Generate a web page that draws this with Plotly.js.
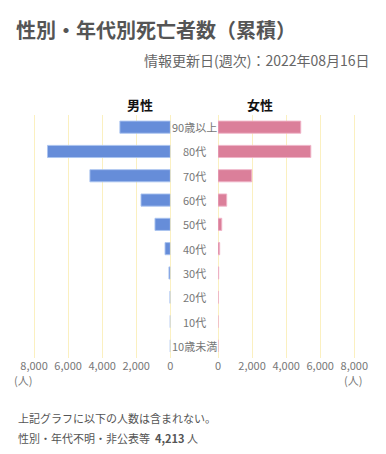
<!DOCTYPE html>
<html>
<head>
<meta charset="utf-8">
<script src="https://cdn.plot.ly/plotly-3.0.1.min.js"></script>
<style>
html,body{margin:0;padding:0;background:#fff;}
#chart{width:386px;height:454px;}
</style>
</head>
<body>
<div id="chart"></div>
<script>
const categories = ["90歳以上","80代","70代","60代","50代","40代","30代","20代","10代","10歳未満"];
const maleValues = [2960, 7210, 4720, 1720, 900, 310, 80, 20, 4, 1];
const femaleValues = [4860, 5450, 1980, 510, 220, 100, 40, 15, 3, 1];
const tickValues = [0, 2000, 4000, 6000, 8000];
const title = "性別・年代別死亡者数（累積）";
const subtitle = "情報更新日(週次)：2022年08月16日";
const maleLabel = "男性";
const femaleLabel = "女性";
const unitLabel = "(人)";
const noteLine1 = "上記グラフに以下の人数は含まれない。";
const noteLine2Prefix = "性別・年代不明・非公表等";
const unknownCount = 4213;
const unknownUnit = "人";

const W = 386, H = 454;
const MT = 115, MB = 96;
const PH = H - MT - MB;
const FONT = "'Noto Sans CJK JP', 'Noto Sans', sans-serif";
const px = v => v / W;
const py = v => (H - MB - v) / PH;

const traces = [
  {
    type: "bar", orientation: "h",
    x: maleValues, y: categories,
    xaxis: "x", yaxis: "y",
    marker: {color: "#668dd9", line: {color: "rgba(170,195,240,0.9)", width: 1}},
    width: 0.5, hoverinfo: "skip"
  },
  {
    type: "bar", orientation: "h",
    x: femaleValues, y: categories,
    xaxis: "x2", yaxis: "y",
    marker: {color: "#db7f9a", line: {color: "rgba(240,180,200,0.9)", width: 1}},
    width: 0.5, hoverinfo: "skip"
  }
];

const axisCommon = {
  tickvals: tickValues,
  tickformat: ",d",
  showgrid: true,
  gridcolor: "#fbf0c0",
  gridwidth: 1,
  zeroline: true,
  zerolinecolor: "#fbf0c0",
  zerolinewidth: 1,
  showline: false,
  ticks: "",
  tickfont: {family: FONT, size: 11, color: "#777"},
  fixedrange: true
};

const annotations = categories.map(c => ({
  xref: "paper", yref: "y", x: px(194), y: c,
  text: c, showarrow: false, xanchor: "center", yanchor: "middle",
  font: {family: FONT, size: 11, color: "#777"}
}));

annotations.push(
  {xref: "paper", yref: "paper", x: px(372), y: py(60), text: subtitle, showarrow: false,
   xanchor: "right", yanchor: "middle", font: {family: FONT, size: 14, color: "#666"}},
  {xref: "paper", yref: "paper", x: px(140), y: py(104), text: "<b>" + maleLabel + "</b>", showarrow: false,
   xanchor: "center", yanchor: "middle", font: {family: FONT, size: 13, color: "#111"}},
  {xref: "paper", yref: "paper", x: px(260), y: py(104), text: "<b>" + femaleLabel + "</b>", showarrow: false,
   xanchor: "center", yanchor: "middle", font: {family: FONT, size: 13, color: "#111"}},
  {xref: "paper", yref: "paper", x: px(23), y: py(380), text: unitLabel, showarrow: false,
   xanchor: "center", yanchor: "middle", font: {family: FONT, size: 11, color: "#777"}},
  {xref: "paper", yref: "paper", x: px(353), y: py(380), text: unitLabel, showarrow: false,
   xanchor: "center", yanchor: "middle", font: {family: FONT, size: 11, color: "#777"}},
  {xref: "paper", yref: "paper", x: px(16), y: py(418), text: noteLine1, showarrow: false,
   xanchor: "left", yanchor: "middle", font: {family: FONT, size: 11, color: "#555"}},
  {xref: "paper", yref: "paper", x: px(16), y: py(438),
   text: noteLine2Prefix + "  <b>" + unknownCount.toLocaleString("en-US") + "</b> " + unknownUnit,
   showarrow: false, xanchor: "left", yanchor: "middle", font: {family: FONT, size: 11, color: "#555"}}
);

const layout = {
  width: W, height: H,
  margin: {l: 0, r: 0, t: MT, b: MB, pad: 0},
  paper_bgcolor: "#fff", plot_bgcolor: "#fff",
  showlegend: false,
  barmode: "overlay",
  title: {
    text: "<b>" + title + "</b>",
    x: px(16), xanchor: "left", xref: "container",
    y: 1 - 31 / H, yanchor: "middle", yref: "container",
    font: {family: FONT, size: 20, color: "#555"}
  },
  xaxis: Object.assign({}, axisCommon, {domain: [px(17), px(170.3)], range: [9000, 0], anchor: "y"}),
  xaxis2: Object.assign({}, axisCommon, {domain: [px(218), px(371.3)], range: [0, 9000], anchor: "y"}),
  yaxis: {
    domain: [0, 1],
    categoryorder: "array", categoryarray: categories,
    autorange: "reversed",
    showticklabels: false, showgrid: false, zeroline: false, showline: false, ticks: "",
    fixedrange: true
  },
  annotations: annotations,
  font: {family: FONT}
};

Plotly.newPlot("chart", traces, layout, {displayModeBar: false, staticPlot: true});
</script>
</body>
</html>
